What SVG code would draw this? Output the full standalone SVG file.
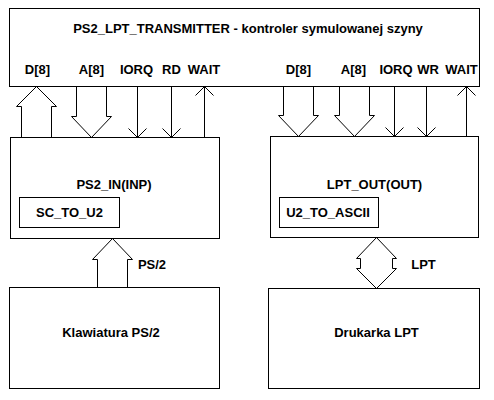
<svg xmlns="http://www.w3.org/2000/svg" width="494" height="400" viewBox="0 0 494 400">
<style>
.box{fill:#fff;stroke:#000;stroke-width:1}
.ln{fill:none;stroke:#000;stroke-width:1}
text{font-family:"Liberation Sans",Arial,sans-serif;font-weight:bold;font-size:13px;fill:#000;text-anchor:middle}
</style>
<rect width="494" height="400" fill="#fff"/>
<g id="transmitter">
<rect class="box" x="9.5" y="8.5" width="470" height="78"/>
<text x="248" y="33">PS2_LPT_TRANSMITTER - kontroler symulowanej szyny</text>
<text x="37.5" y="74">D[8]</text>
<text x="91.5" y="74">A[8]</text>
<text x="136.5" y="74">IORQ</text>
<text x="171.5" y="74">RD</text>
<text x="204" y="74">WAIT</text>
<text x="298.5" y="74">D[8]</text>
<text x="353.5" y="74">A[8]</text>
<text x="396" y="74">IORQ</text>
<text x="428" y="74">WR</text>
<text x="461.5" y="74">WAIT</text>
</g>
<g id="ps2_in">
<rect class="box" x="10.5" y="137.5" width="209" height="101"/>
<text x="114" y="189">PS2_IN(INP)</text>
</g>
<g id="sc_to_u2">
<rect class="box" x="19.5" y="197.5" width="100" height="30"/>
<text x="69.5" y="217">SC_TO_U2</text>
</g>
<g id="lpt_out">
<rect class="box" x="270.5" y="136.5" width="208" height="101"/>
<text x="374.5" y="189">LPT_OUT(OUT)</text>
</g>
<g id="u2_to_ascii">
<rect class="box" x="279.5" y="197.5" width="99" height="30"/>
<text x="328" y="217">U2_TO_ASCII</text>
</g>
<g id="klawiatura">
<rect class="box" x="9.5" y="287.5" width="210" height="101"/>
<text x="111" y="337">Klawiatura PS/2</text>
</g>
<g id="drukarka">
<rect class="box" x="268.5" y="288.5" width="211" height="100"/>
<text x="376.5" y="337">Drukarka LPT</text>
</g>
<g id="connectors">
<polyline class="ln" points="21.5,137.5 21.5,106.5 16.5,106.5 36.5,86.5 56.5,106.5 51.5,106.5 51.5,137.5"/>
<polyline class="ln" points="76.5,86.5 76.5,116.5 71.5,116.5 91.5,137.5 111.5,116.5 106.5,116.5 106.5,86.5"/>
<line class="ln" x1="137.5" y1="86.5" x2="137.5" y2="137.5"/>
<polyline class="ln" points="128.5,128.5 137.5,137.5 146.5,128.5"/>
<line class="ln" x1="171.5" y1="86.5" x2="171.5" y2="137.5"/>
<polyline class="ln" points="162.5,128.5 171.5,137.5 180.5,128.5"/>
<line class="ln" x1="204.5" y1="137.5" x2="204.5" y2="86.5"/>
<polyline class="ln" points="195.5,95.5 204.5,86.5 213.5,95.5"/>
<polyline class="ln" points="283.5,86.5 283.5,115.5 278.5,115.5 298.5,136.5 318.5,115.5 313.5,115.5 313.5,86.5"/>
<polyline class="ln" points="339.5,86.5 339.5,115.5 334.5,115.5 354.5,136.5 374.5,115.5 369.5,115.5 369.5,86.5"/>
<line class="ln" x1="394.5" y1="86.5" x2="394.5" y2="136.5"/>
<polyline class="ln" points="385.5,127.5 394.5,136.5 403.5,127.5"/>
<line class="ln" x1="426.5" y1="86.5" x2="426.5" y2="136.5"/>
<polyline class="ln" points="417.5,127.5 426.5,136.5 435.5,127.5"/>
<line class="ln" x1="466.5" y1="136.5" x2="466.5" y2="86.5"/>
<polyline class="ln" points="457.5,95.5 466.5,86.5 475.5,95.5"/>
<polyline class="ln" points="97.5,287.5 97.5,259.5 92.5,259.5 112.5,238.5 132.5,259.5 127.5,259.5 127.5,287.5"/>
<polygon class="ln" points="376.5,237.5 356.5,258.5 360.5,258.5 360.5,268.5 356.5,268.5 376.5,288.5 396.5,268.5 392.5,268.5 392.5,258.5 396.5,258.5"/>
<text x="152" y="269">PS/2</text>
<text x="423.5" y="269">LPT</text>
</g>
</svg>
